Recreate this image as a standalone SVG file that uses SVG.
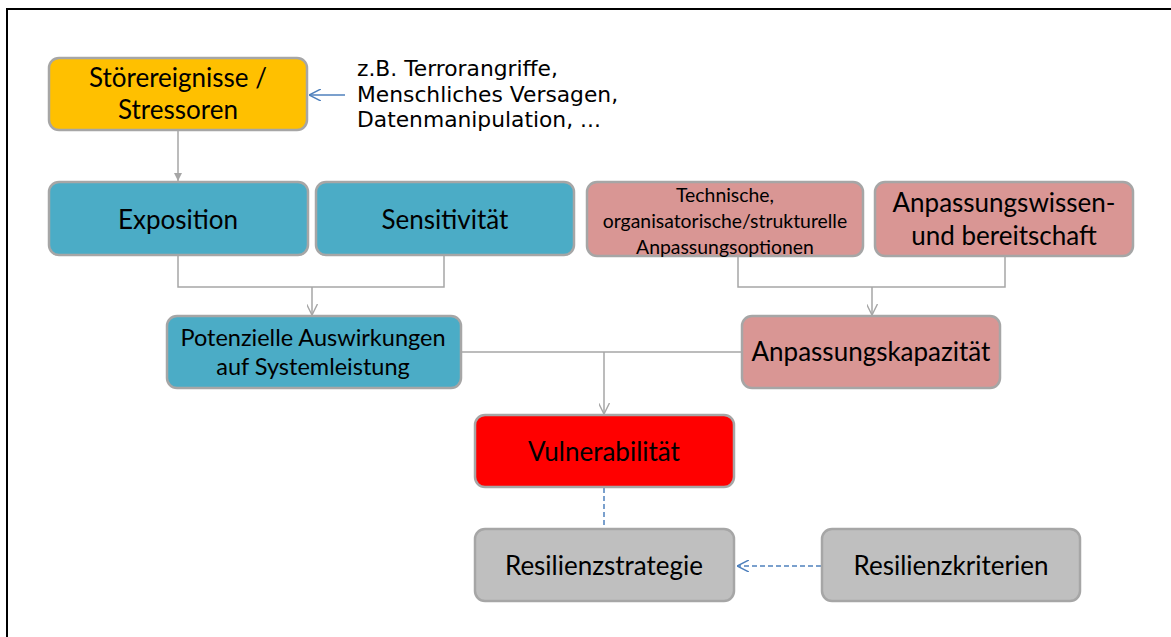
<svg xmlns="http://www.w3.org/2000/svg" width="1171" height="637" viewBox="0 0 1171 637">
<style>
.box{stroke:#A6A6A6;stroke-width:2.5}
.yel{fill:#FFC000}.blu{fill:#4BACC6}.pnk{fill:#D99694}.red{fill:#FF0000}.gry{fill:#BFBFBF}
.t{font-family:Lato,"Open Sans",sans-serif;font-size:26px;fill:#000;text-anchor:middle}
.s{font-size:19.4px}
.m{font-size:23.5px}
.v{font-family:"DejaVu Sans",Verdana,sans-serif;font-size:21.8px;fill:#000}
.c{fill:none;stroke:#A6A6A6;stroke-width:1.5}
.d{fill:none;stroke:#4F81BD;stroke-width:1.5;stroke-dasharray:5,3}
</style>
<defs>
<marker id="fa" viewBox="0 0 10 10" refX="10" refY="5" markerWidth="8" markerHeight="8" markerUnits="userSpaceOnUse" orient="auto"><path d="M0,0 L10,5 L0,10 z" fill="#A6A6A6"/></marker>
<marker id="oa" viewBox="0 0 10 10" refX="10" refY="5" markerWidth="11" markerHeight="11" markerUnits="userSpaceOnUse" orient="auto"><path d="M0,0 L10,5 L0,10" fill="none" stroke="#A6A6A6" stroke-width="1.3"/></marker>
<marker id="ob" viewBox="0 0 10 10" refX="10" refY="5" markerWidth="12" markerHeight="12" markerUnits="userSpaceOnUse" orient="auto"><path d="M0,0 L10,5 L0,10" fill="none" stroke="#4F81BD" stroke-width="1.3"/></marker>
</defs>
<path d="M7,637 V9 H1171" fill="none" stroke="#000" stroke-width="2"/>
<g id="connectors">
<path class="c" d="M178,131 V181" marker-end="url(#fa)"/>
<path class="c" d="M178,256 V287 H444 V256"/>
<path class="c" d="M312,287 V315" marker-end="url(#oa)"/>
<path class="c" d="M738,257 V287 H1005 V257"/>
<path class="c" d="M872,287 V315" marker-end="url(#oa)"/>
<path class="c" d="M462,352 H741"/>
<path class="c" d="M604,352 V414" marker-end="url(#oa)"/>
<path class="d" d="M604,488 V528"/>
<path class="d" d="M821,566 H737" marker-end="url(#ob)"/>
<path d="M345,95 H309" fill="none" stroke="#4F81BD" stroke-width="1.5" marker-end="url(#ob)"/>
</g>
<g id="stoer"><rect class="box yel" x="49" y="58" width="258" height="72" rx="10"/><text class="t" x="178" y="87">Störereignisse /</text><text class="t" x="178" y="119">Stressoren</text></g>
<g id="beispiele"><text class="v" x="357" y="76">z.B. Terrorangriffe,</text><text class="v" x="357" y="102">Menschliches Versagen,</text><text class="v" x="357" y="127">Datenmanipulation, ...</text></g>
<g id="exposition"><rect class="box blu" x="49" y="182" width="259" height="73" rx="10"/><text class="t" x="178" y="229">Exposition</text></g>
<g id="sensitivitaet"><rect class="box blu" x="316" y="182" width="258" height="73" rx="10"/><text class="t" x="445" y="229">Sensitivität</text></g>
<g id="optionen"><rect class="box pnk" x="587" y="182" width="276" height="74" rx="10"/><text class="t s" x="725" y="202">Technische,</text><text class="t s" x="725" y="228">organisatorische/strukturelle</text><text class="t s" x="725" y="254">Anpassungsoptionen</text></g>
<g id="wissen"><rect class="box pnk" x="875" y="182" width="258" height="74" rx="10"/><text class="t" x="1004" y="212">Anpassungswissen-</text><text class="t" x="1004" y="245">und bereitschaft</text></g>
<g id="auswirkungen"><rect class="box blu" x="167" y="316" width="294" height="72" rx="10"/><text class="t m" x="313" y="346">Potenzielle Auswirkungen</text><text class="t m" x="313" y="375">auf Systemleistung</text></g>
<g id="kapazitaet"><rect class="box pnk" x="742" y="316" width="258" height="72" rx="10"/><text class="t" x="871" y="361">Anpassungskapazität</text></g>
<g id="vulnerabilitaet"><rect class="box red" x="475" y="415" width="259" height="72" rx="10"/><text class="t" x="604" y="461">Vulnerabilität</text></g>
<g id="strategie"><rect class="box gry" x="475" y="529" width="259" height="72" rx="10"/><text class="t" x="604" y="575">Resilienzstrategie</text></g>
<g id="kriterien"><rect class="box gry" x="822" y="529" width="258" height="72" rx="10"/><text class="t" x="951" y="575">Resilienzkriterien</text></g>
</svg>
